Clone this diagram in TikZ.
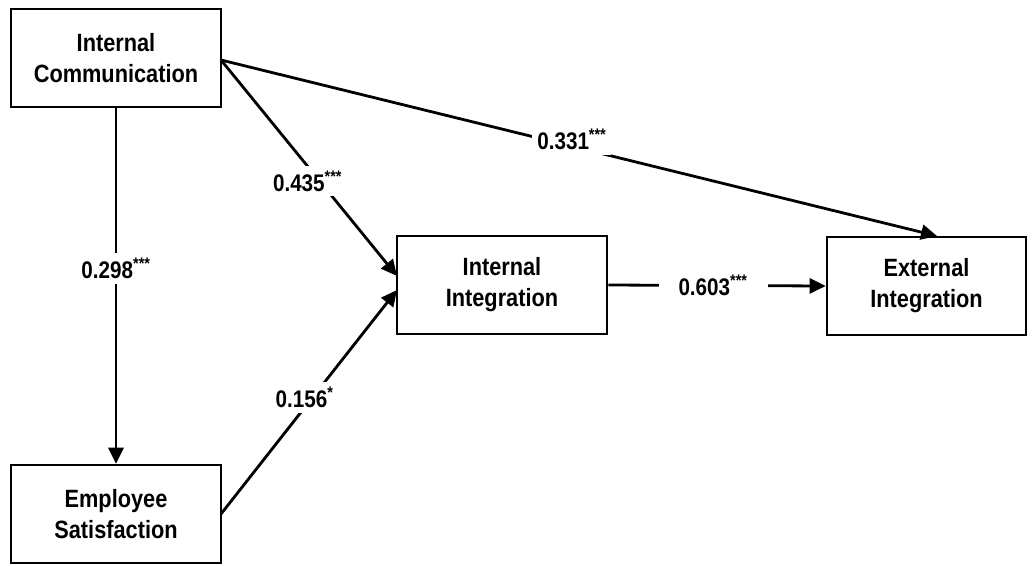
\documentclass[tikz,border=0pt]{standalone}
\usepackage{fontspec}
\setmainfont{Liberation Sans}
\newfontfamily\boxfont[FakeStretch=0.87]{Liberation Sans}
\newfontfamily\coeffont[FakeStretch=0.86]{Liberation Sans}
\usetikzlibrary{arrows.meta}
\begin{document}
\begin{tikzpicture}[x=1pt,y=-1pt,
  box/.style={draw, line width=2.6pt, minimum width=210pt, minimum height=98pt, align=center, font=\boxfont\fontsize{25}{31}\selectfont\bfseries, inner sep=0pt},
  conn/.style={line width=2.8pt, -{Triangle[length=16pt,width=15pt]}},
  coef/.style={fill=white, font=\coeffont\fontsize{24}{26}\selectfont\bfseries, inner sep=5pt}]
\useasboundingbox (0,0) rectangle (1032,565);
\node[box] (ic) at (116,58) {Internal\\Communication};
\node[box] (es) at (116,514) {Employee\\Satisfaction};
\node[box] (ii) at (502,285) {Internal\\Integration};
\node[box, minimum width=199pt] (ei) at (926.5,286) {External\\Integration};
\coordinate (icr) at (221,60);
\coordinate (esr) at (221,514);
\coordinate (iil1) at (397,276);
\coordinate (iil2) at (397,290);
\coordinate (eit) at (937,236);
\draw[conn] (ic.south) -- node[coef, pos=0.45] {0.298\textsuperscript{***}} (es.north);
\draw[conn] (icr) -- node[coef, pos=0.56, xshift=-12pt] {0.435\textsuperscript{***}} (iil1);
\draw[conn] (esr) -- node[coef, pos=0.52, xshift=-8pt] {0.156\textsuperscript{*}} (iil2);
\draw[conn] (icr) -- node[coef, pos=0.49, yshift=7pt] {0.331\textsuperscript{***}} (eit);
\draw[conn] (ii.east) -- node[coef, inner xsep=20pt, xshift=-4pt] {0.603\textsuperscript{***}} (ei.west);
\end{tikzpicture}
\end{document}
